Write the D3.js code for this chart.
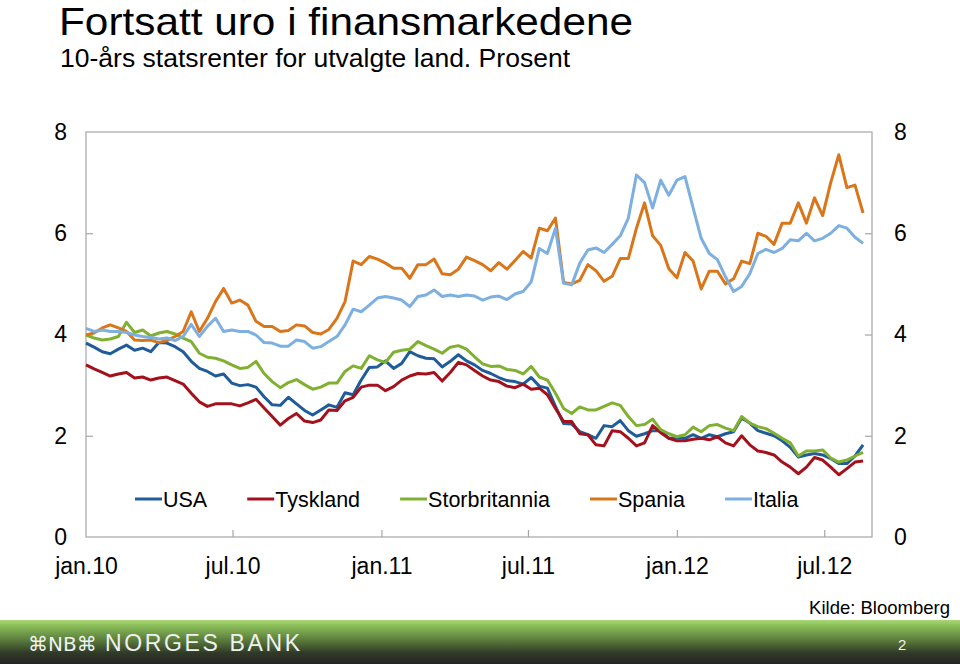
<!DOCTYPE html>
<html><head><meta charset="utf-8">
<script src="https://cdn.jsdelivr.net/npm/d3@7"></script>
<style>
body{margin:0;background:#fff;}
svg{display:block;font-family:"Liberation Sans",Arial,sans-serif;}
</style>
</head><body>
<svg id="c" width="960" height="664"></svg>
<script>
const dates = [
"2010-01-01","2010-01-11","2010-01-21","2010-01-31","2010-02-10","2010-02-20","2010-03-02","2010-03-12","2010-03-22","2010-04-01",
"2010-04-11","2010-04-21","2010-05-01","2010-05-11","2010-05-21","2010-05-31","2010-06-10","2010-06-20","2010-06-30","2010-07-10",
"2010-07-20","2010-07-30","2010-08-09","2010-08-19","2010-08-29","2010-09-08","2010-09-18","2010-09-28","2010-10-08","2010-10-18",
"2010-10-28","2010-11-07","2010-11-17","2010-11-27","2010-12-07","2010-12-17","2010-12-27","2011-01-06","2011-01-16","2011-01-26",
"2011-02-05","2011-02-15","2011-02-25","2011-03-07","2011-03-17","2011-03-27","2011-04-06","2011-04-16","2011-04-26","2011-05-06",
"2011-05-16","2011-05-26","2011-06-05","2011-06-15","2011-06-25","2011-07-05","2011-07-15","2011-07-25","2011-08-04","2011-08-14",
"2011-08-24","2011-09-03","2011-09-13","2011-09-23","2011-10-03","2011-10-13","2011-10-23","2011-11-02","2011-11-12","2011-11-22",
"2011-12-02","2011-12-12","2011-12-22","2012-01-01","2012-01-11","2012-01-21","2012-01-31","2012-02-10","2012-02-20","2012-03-01",
"2012-03-11","2012-03-21","2012-03-31","2012-04-10","2012-04-20","2012-04-30","2012-05-10","2012-05-20","2012-05-30","2012-06-09",
"2012-06-19","2012-06-29","2012-07-09","2012-07-19","2012-07-29","2012-08-08","2012-08-18"];

const usa = [3.83,3.75,3.66,3.62,3.71,3.79,3.69,3.73,3.66,3.84,3.83,3.76,3.66,3.47,3.33,3.27,3.18,3.22,3.04,2.99,3.01,2.96,2.77,2.61,2.60,
 2.76,2.63,2.50,2.41,2.51,2.61,2.56,2.85,2.81,3.10,3.35,3.36,3.48,3.33,3.43,3.66,3.58,3.53,3.52,3.36,3.47,3.60,3.48,3.40,
 3.29,3.23,3.15,3.09,3.07,3.02,3.15,2.98,2.94,2.58,2.24,2.23,2.08,2.02,1.95,2.20,2.18,2.30,2.10,1.99,2.04,2.10,2.10,1.95,
 1.96,1.95,2.02,1.95,2.02,1.98,2.04,2.08,2.35,2.25,2.10,2.05,2.00,1.90,1.77,1.58,1.62,1.65,1.62,1.55,1.45,1.45,1.60,1.82];

const tyskland = [3.40,3.32,3.25,3.18,3.22,3.25,3.14,3.16,3.10,3.14,3.16,3.09,3.02,2.84,2.67,2.58,2.63,2.63,2.63,2.59,2.65,2.72,2.55,2.38,2.21,
 2.34,2.44,2.29,2.26,2.31,2.51,2.50,2.69,2.76,2.96,3.00,3.00,2.89,2.97,3.10,3.18,3.23,3.22,3.25,3.08,3.25,3.45,3.40,3.29,
 3.18,3.10,3.07,2.98,2.95,3.02,2.92,2.94,2.81,2.54,2.28,2.28,2.04,2.02,1.82,1.80,2.10,2.08,1.95,1.80,1.86,2.20,2.06,1.95,
 1.90,1.90,1.93,1.95,1.92,1.98,1.86,1.80,2.00,1.82,1.70,1.67,1.62,1.48,1.38,1.25,1.38,1.57,1.52,1.38,1.23,1.35,1.48,1.50];

const storbritannia = [3.99,3.93,3.89,3.91,3.96,4.24,4.04,4.09,3.97,4.03,4.06,4.01,3.93,3.86,3.63,3.55,3.53,3.48,3.40,3.33,3.35,3.47,3.23,3.07,2.95,
 3.05,3.11,3.01,2.92,2.96,3.04,3.04,3.27,3.38,3.33,3.58,3.50,3.45,3.65,3.69,3.71,3.86,3.78,3.71,3.63,3.75,3.78,3.71,3.56,
 3.42,3.37,3.38,3.31,3.29,3.22,3.37,3.16,3.10,2.84,2.54,2.44,2.57,2.51,2.51,2.58,2.65,2.60,2.38,2.20,2.22,2.33,2.12,2.04,
 1.98,2.02,2.17,2.08,2.20,2.22,2.15,2.10,2.38,2.25,2.18,2.14,2.05,1.95,1.86,1.60,1.70,1.70,1.72,1.56,1.48,1.52,1.60,1.67];

const spania = [3.99,4.03,4.13,4.19,4.13,4.06,3.89,3.88,3.89,3.84,3.88,3.96,4.06,4.45,4.06,4.32,4.65,4.91,4.62,4.68,4.58,4.26,4.16,4.16,4.06,
 4.08,4.19,4.17,4.04,4.01,4.10,4.32,4.65,5.45,5.38,5.54,5.49,5.41,5.31,5.31,5.11,5.38,5.38,5.49,5.20,5.18,5.29,5.53,5.46,
 5.38,5.26,5.42,5.29,5.46,5.64,5.51,6.10,6.05,6.30,5.03,5.00,5.07,5.38,5.26,5.05,5.15,5.50,5.50,6.10,6.60,5.95,5.76,5.30,
 5.12,5.62,5.45,4.90,5.25,5.25,5.00,5.10,5.45,5.40,6.00,5.94,5.78,6.20,6.20,6.60,6.20,6.70,6.35,7.00,7.55,6.90,6.95,6.40];

const italia = [4.12,4.06,4.09,4.06,4.06,4.04,3.99,3.96,3.94,3.91,3.93,3.88,3.96,4.20,3.96,4.16,4.32,4.06,4.09,4.06,4.06,3.99,3.84,3.83,3.77,
 3.77,3.89,3.86,3.73,3.76,3.86,3.96,4.19,4.50,4.45,4.58,4.72,4.75,4.72,4.68,4.55,4.75,4.78,4.88,4.75,4.78,4.75,4.78,4.76,
 4.68,4.74,4.76,4.69,4.80,4.85,5.04,5.70,5.60,6.10,5.01,4.98,5.41,5.67,5.71,5.62,5.78,5.95,6.30,7.15,7.00,6.50,7.05,6.75,
 7.05,7.12,6.50,5.90,5.60,5.48,5.14,4.85,4.95,5.20,5.60,5.68,5.62,5.70,5.87,5.85,6.00,5.85,5.90,6.00,6.15,6.10,5.92,5.80];

const seriesNames = ["USA","Tyskland","Storbritannia","Spania","Italia"];
const seriesColors = ["#1f5c99","#a3121c","#80b030","#d9761a","#7dafe0"];
const xTickDates = ["2010-01-01","2010-07-01","2011-01-01","2011-07-01","2012-01-01","2012-07-01"];
const xTickLabels = ["jan.10","jul.10","jan.11","jul.11","jan.12","jul.12"];
const yTicks = [0,2,4,6,8];
const titleText = "Fortsatt uro i finansmarkedene";
const subtitleText = "10-års statsrenter for utvalgte land. Prosent";
const sourceText = "Kilde:  Bloomberg";

// ---- chart ----
const svg = d3.select("#c");
const parse = d3.utcParse("%Y-%m-%d");
const L = 86, R = 872, T = 132, B = 537;
const x = d3.scaleUtc().domain([parse("2010-01-01"), parse("2012-08-29")]).range([L, R]);
const y = d3.scaleLinear().domain([0, 8]).range([B, T]);
const gridGray = "#a6a6a6";

svg.append("text").attr("x", 59).attr("y", 35).attr("font-size", 39)
  .attr("textLength", 574).attr("lengthAdjust", "spacingAndGlyphs").attr("fill", "#000").text(titleText);
svg.append("text").attr("x", 60).attr("y", 67).attr("font-size", 26)
  .attr("textLength", 510).attr("lengthAdjust", "spacingAndGlyphs").attr("fill", "#000").text(subtitleText);

// frame
svg.append("rect").attr("x", L).attr("y", T).attr("width", R - L).attr("height", B - T)
  .attr("fill", "none").attr("stroke", gridGray).attr("stroke-width", 1.2);

const xAxis = d3.axisBottom(x).tickValues(xTickDates.map(parse))
  .tickFormat((d, i) => xTickLabels[i]).tickSize(-7).tickPadding(21);
const gx = svg.append("g").attr("transform", `translate(0,${B})`).call(xAxis);
const yL = svg.append("g").attr("transform", `translate(${L},0)`)
  .call(d3.axisLeft(y).tickValues(yTicks).tickFormat(d3.format("d")).tickSize(-7).tickPadding(19));
const yR = svg.append("g").attr("transform", `translate(${R},0)`)
  .call(d3.axisRight(y).tickValues(yTicks).tickFormat(d3.format("d")).tickSize(-7).tickPadding(22));
[gx, yL, yR].forEach(g => {
  g.select(".domain").remove();
  g.selectAll(".tick line").attr("stroke", gridGray).attr("stroke-width", 1.2);
  g.selectAll(".tick text").attr("fill", "#000").attr("font-family", "Liberation Sans, Arial, sans-serif")
    .attr("font-size", 23);
});
gx.selectAll(".tick line").filter((d, i) => i === 0).remove();
[yL, yR].forEach(g => g.selectAll(".tick line").filter(d => d === 0 || d === 8).remove());

// lines
const allValues = [usa, tyskland, storbritannia, spania, italia];
const parsedDates = dates.map(parse);
const line = d3.line().x((d, i) => x(parsedDates[i])).y(d => y(d)).curve(d3.curveLinear);
allValues.forEach((vals, k) => {
  svg.append("path").datum(vals).attr("d", line).attr("fill", "none")
    .attr("stroke", seriesColors[k]).attr("stroke-width", 3).attr("stroke-linejoin", "round");
});

// legend
let lx = 135;
const ly = 499;
seriesNames.forEach((n, k) => {
  svg.append("line").attr("x1", lx).attr("x2", lx + 27).attr("y1", ly).attr("y2", ly)
    .attr("stroke", seriesColors[k]).attr("stroke-width", 3);
  const t = svg.append("text").attr("x", lx + 28).attr("y", ly + 7.5).attr("font-size", 21.5).attr("fill", "#000").text(n);
  lx += 28 + t.node().getComputedTextLength() + 40;
});

// source
svg.append("text").attr("x", 950).attr("y", 614).attr("text-anchor", "end").attr("font-size", 18.5)
  .attr("fill", "#000").text(sourceText);

// banner
const defs = svg.append("defs");
const grad = defs.append("linearGradient").attr("id", "band").attr("x1", 0).attr("x2", 0).attr("y1", 0).attr("y2", 1);
[[0, "#a9d877"], [0.12, "#8cc05a"], [0.45, "#5b7d3c"], [0.75, "#303a28"], [1, "#242424"]]
  .forEach(s => grad.append("stop").attr("offset", s[0]).attr("stop-color", s[1]));
svg.append("rect").attr("x", 0).attr("y", 620).attr("width", 960).attr("height", 44).attr("fill", "url(#band)");
svg.append("text").attr("x", 28).attr("y", 651).attr("font-size", 20).attr("fill", "#f0f0f0")
  .attr("font-family", "DejaVu Sans, sans-serif").text("⌘NB⌘");
svg.append("text").attr("x", 105).attr("y", 651).attr("font-size", 23)
  .attr("textLength", 195).attr("lengthAdjust", "spacing")
  .attr("fill", "#f0f0f0").attr("font-family", "Liberation Sans, sans-serif").text("NORGES BANK");
svg.append("text").attr("x", 898).attr("y", 650).attr("font-size", 15).attr("fill", "#f0f0f0").text("2");
</script>
</body></html>
